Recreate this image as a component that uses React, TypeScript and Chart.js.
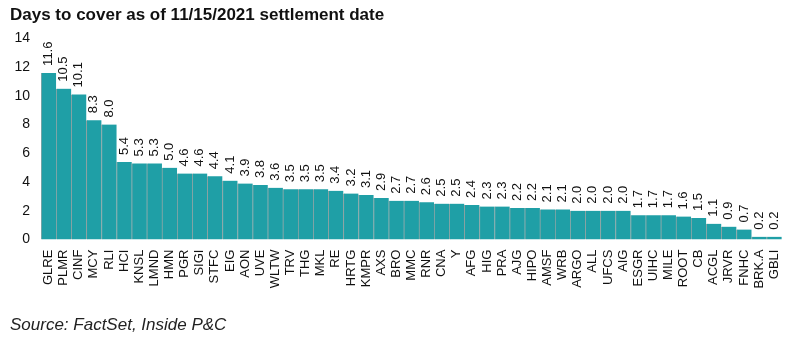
import React, { useEffect, useRef } from "react";
import { Chart, registerables } from "chart.js";

Chart.register(...registerables);

const categories = ["GLRE","PLMR","CINF","MCY","RLI","HCI","KNSL","LMND","HMN","PGR","SIGI","STFC","EIG","AON","UVE","WLTW","TRV","THG","MKL","RE","HRTG","KMPR","AXS","BRO","MMC","RNR","CNA","Y","AFG","HIG","PRA","AJG","HIPO","AMSF","WRB","ARGO","ALL","UFCS","AIG","ESGR","UIHC","MILE","ROOT","CB","ACGL","JRVR","FNHC","BRK.A","GBLI"];
const daysToCover = [11.6,10.5,10.1,8.3,8.0,5.4,5.3,5.3,5.0,4.6,4.6,4.4,4.1,3.9,3.8,3.6,3.5,3.5,3.5,3.4,3.2,3.1,2.9,2.7,2.7,2.6,2.5,2.5,2.4,2.3,2.3,2.2,2.2,2.1,2.1,2.0,2.0,2.0,2.0,1.7,1.7,1.7,1.6,1.5,1.1,0.9,0.7,0.2,0.2];
const titleText = "Days to cover as of 11/15/2021 settlement date";
const sourceText = "Source: FactSet, Inside P&C";

const FONT = "'Liberation Sans', Arial, sans-serif";

const valueLabels = {
  id: "valueLabels",
  afterDatasetsDraw(chart: any) {
    const ctx = chart.ctx;
    const meta = chart.getDatasetMeta(0);
    const data = chart.data.datasets[0].data;
    ctx.save();
    ctx.font = `13px ${FONT}`;
    ctx.fillStyle = "#111";
    ctx.textAlign = "left";
    ctx.textBaseline = "middle";
    meta.data.forEach((bar: any, i: number) => {
      ctx.save();
      ctx.translate(bar.x, bar.y - 7);
      ctx.rotate(-Math.PI / 2);
      ctx.fillText(Number(data[i]).toFixed(1), 0, 0);
      ctx.restore();
    });
    ctx.restore();
  },
};

export default function App() {
  const ref = useRef<HTMLCanvasElement>(null);
  useEffect(() => {
    document.body.style.margin = "0";
    const chart = new Chart(ref.current!, {
      type: "bar",
      data: {
        labels: categories,
        datasets: [
          {
            data: daysToCover,
            backgroundColor: "#1F9FA6",
            borderColor: "rgba(110,130,130,0.7)",
            borderWidth: { left: 1, right: 0, top: 0, bottom: 0 },
            borderSkipped: false,
            categoryPercentage: 1,
            barPercentage: 1,
          },
        ],
      },
      plugins: [valueLabels],
      options: {
        responsive: false,
        animation: false,
        layout: { padding: { left: 10, right: 16, top: 0, bottom: 0 } },
        plugins: {
          legend: { display: false },
          tooltip: { enabled: false },
          title: {
            display: true,
            text: titleText,
            align: "start",
            color: "#111",
            font: { family: FONT, size: 17, weight: "bold" },
            padding: { top: 5, bottom: 13 },
          },
          subtitle: {
            display: true,
            text: sourceText,
            position: "bottom",
            align: "start",
            color: "#222",
            font: { family: FONT, size: 17, style: "italic" },
            padding: { top: 16, bottom: 15 },
          },
        },
        scales: {
          x: {
            grid: { display: false, drawTicks: false },
            border: { display: false },
            ticks: {
              minRotation: 90,
              maxRotation: 90,
              autoSkip: false,
              padding: 10,
              color: "#111",
              font: { family: FONT, size: 13 },
            },
          },
          y: {
            min: 0,
            max: 14,
            grid: { display: false, drawTicks: false },
            border: { display: false },
            afterFit: (scale: any) => {
              scale.width = 31;
            },
            ticks: {
              stepSize: 2,
              padding: 11,
              color: "#111",
              font: { family: FONT, size: 14 },
            },
          },
        },
      },
    });
    return () => chart.destroy();
  }, []);
  return <canvas ref={ref} width={800} height={350} />;
}
